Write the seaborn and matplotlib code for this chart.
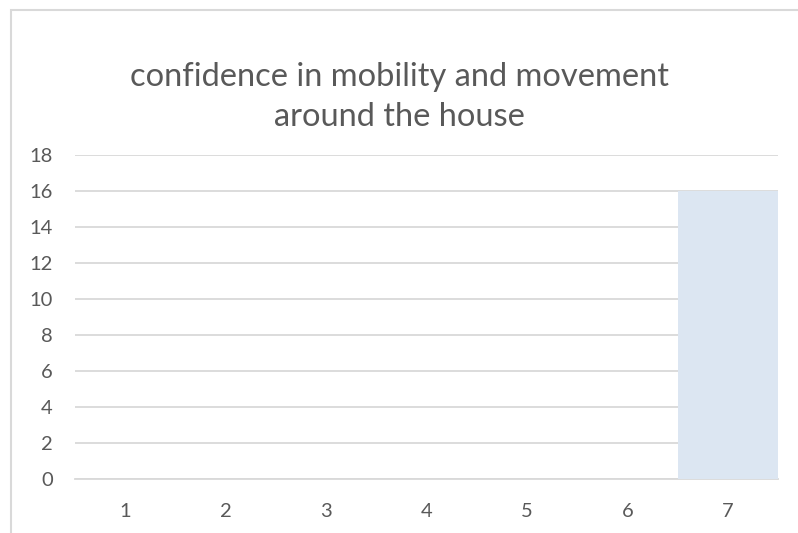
import matplotlib
matplotlib.use("Agg")
import matplotlib.pyplot as plt
import seaborn as sns
import pandas as pd
from matplotlib.patches import Rectangle

sns.set_theme(style="white")
plt.rcParams["font.family"] = ["Lato", "DejaVu Sans"]

# chart data
categories = ["1", "2", "3", "4", "5", "6", "7"]
counts = [0, 0, 0, 0, 0, 0, 16]
y_ticks = [0, 2, 4, 6, 8, 10, 12, 14, 16, 18]
title = "confidence in mobility and movement\naround the house"

df = pd.DataFrame({"rating": categories, "count": counts})

fig = plt.figure(figsize=(7.98, 5.33), dpi=100)
ax = fig.add_axes([75 / 798, 1 - 479 / 533, (778 - 75) / 798, (479 - 155) / 533])

sns.barplot(data=df, x="rating", y="count", color="#dce6f2", width=1.0,
            saturation=1, linewidth=0, ax=ax, zorder=3)

ax.set_ylim(0, 18)
ax.set_yticks(y_ticks)
ax.set_xlim(-0.5, len(categories) - 0.5)
ax.yaxis.grid(True, color="#d9d9d9", linewidth=1.3, zorder=0)
ax.set_axisbelow(True)
for s in ax.spines.values():
    s.set_visible(False)
ax.spines["bottom"].set_visible(True)
ax.spines["bottom"].set_color("#d9d9d9")
ax.spines["bottom"].set_linewidth(1.3)
ax.tick_params(axis="both", length=0, labelsize=14.5, labelcolor="#595959")
ax.tick_params(axis="x", pad=17)
ax.tick_params(axis="y", pad=16)
ax.set_xlabel("")
ax.set_ylabel("")

fig.text(0.5, 1 - 97 / 533, title, ha="center", va="center", fontsize=23.5,
         color="#595959", linespacing=1.45)

# chart outer border (cropped on the right and bottom)
fig.patches.append(Rectangle((11 / 798, -0.1), 1.2, 1 - 10 / 533 + 0.1,
                             transform=fig.transFigure, fill=False,
                             edgecolor="#d9d9d9", linewidth=1.5))

fig.savefig("out.png", dpi=100, facecolor="white")
